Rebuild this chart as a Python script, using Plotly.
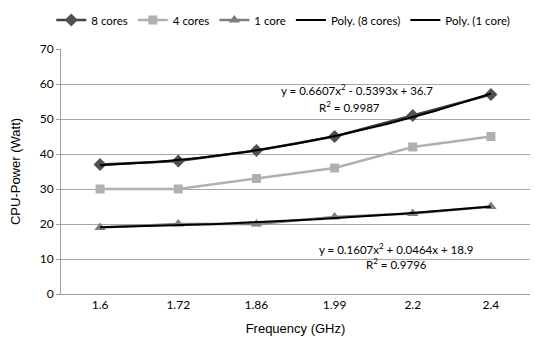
import numpy as np
import plotly.graph_objects as go

# Frequency steps (GHz) and measured CPU power (W)
freq_labels = ["1.6", "1.72", "1.86", "1.99", "2.2", "2.4"]
power_8_cores = [37, 38, 41, 45, 51, 57]
power_4_cores = [30, 30, 33, 36, 42, 45]
power_1_core = [19, 20, 20, 22, 23, 25]

# Second-order polynomial trend coefficients (a, b, c) for a*x^2 + b*x + c
poly_8_cores = (0.6607, -0.5393, 36.7)
poly_1_core = (0.1607, 0.0464, 18.9)
r2_8_cores = 0.9987
r2_1_core = 0.9796

y_ticks = [0, 10, 20, 30, 40, 50, 60, 70]

idx = list(range(1, len(freq_labels) + 1))
xs = np.linspace(1, len(freq_labels), 200)


def poly(c, x):
    return c[0] * x ** 2 + c[1] * x + c[2]


def eq_text(c):
    a, b, k = c
    sb = "+" if b >= 0 else "-"
    return f"y = {a:.4f}x<sup>2</sup> {sb} {abs(b):.4f}x + {k}"


fig = go.Figure()
fig.add_trace(go.Scatter(
    x=idx, y=power_8_cores, name="8 cores", mode="lines+markers",
    line=dict(color="#404040", width=2.5),
    marker=dict(symbol="diamond", size=10, color="#505050")))
fig.add_trace(go.Scatter(
    x=idx, y=power_4_cores, name="4 cores", mode="lines+markers",
    line=dict(color="#B0B0B0", width=2.5),
    marker=dict(symbol="square", size=9, color="#B0B0B0")))
fig.add_trace(go.Scatter(
    x=idx, y=power_1_core, name="1 core", mode="lines+markers",
    line=dict(color="#7F7F7F", width=2.5),
    marker=dict(symbol="triangle-up", size=10, color="#7F7F7F")))
fig.add_trace(go.Scatter(
    x=xs, y=poly(poly_8_cores, xs), name="Poly. (8 cores)", mode="lines",
    line=dict(color="#000000", width=2)))
fig.add_trace(go.Scatter(
    x=xs, y=poly(poly_1_core, xs), name="Poly. (1 core)", mode="lines",
    line=dict(color="#000000", width=2)))

label_font = dict(family="Lato, Carlito, sans-serif", size=11.5, color="#000000")
L, R = 60.5, 530.0
T, B = 46.0, 294.0


def px_to_paper(px):
    return (px - L) / (R - L)


def py_to_paper(py):
    return (B - py) / (B - T)


labels = [
    (357, 87, eq_text(poly_8_cores)),
    (349, 104, f"R<sup>2</sup> = {r2_8_cores}"),
    (396, 248, eq_text(poly_1_core)),
    (396, 263, f"R<sup>2</sup> = {r2_1_core}"),
]
for lx, ly, txt in labels:
    fig.add_annotation(x=px_to_paper(lx), y=py_to_paper(ly), xref="paper", yref="paper",
                       xanchor="center", yanchor="middle", text=txt,
                       showarrow=False, font=label_font)

fig.update_layout(
    width=535, height=358,
    margin=dict(l=L, r=535 - R, t=T, b=358 - B),
    paper_bgcolor="white", plot_bgcolor="white",
    font=dict(family="Lato, Carlito, sans-serif", size=11, color="#000000"),
    showlegend=True,
    legend=dict(orientation="h", x=px_to_paper(283), xanchor="center",
                y=1 + (T - 2) / (B - T), yanchor="top",
                font=dict(size=11.5), itemwidth=30, tracegroupgap=0,
                bgcolor="rgba(0,0,0,0)"),
    xaxis=dict(range=[0.5, len(freq_labels) + 0.5], tickvals=idx, ticktext=freq_labels,
               showgrid=False, zeroline=False, showline=True, linecolor="#A0A0A0",
               linewidth=1, ticks="", tickfont=dict(size=12),
               title=dict(text="Frequency (GHz)",
                          font=dict(family="Liberation Sans, Arial, sans-serif", size=13),
                          standoff=12)),
    yaxis=dict(range=[0, 70], tickvals=y_ticks, showgrid=True, gridcolor="#A6A6A6",
               gridwidth=1, zeroline=False, showline=True, linecolor="#A0A0A0",
               linewidth=1, ticks="outside", ticklen=4, tickcolor="#A0A0A0",
               tickfont=dict(size=12),
               title=dict(text="CPU-Power (Watt)",
                          font=dict(family="Liberation Sans, Arial, sans-serif", size=13),
                          standoff=16)),
)

fig.write_html("out.html")
